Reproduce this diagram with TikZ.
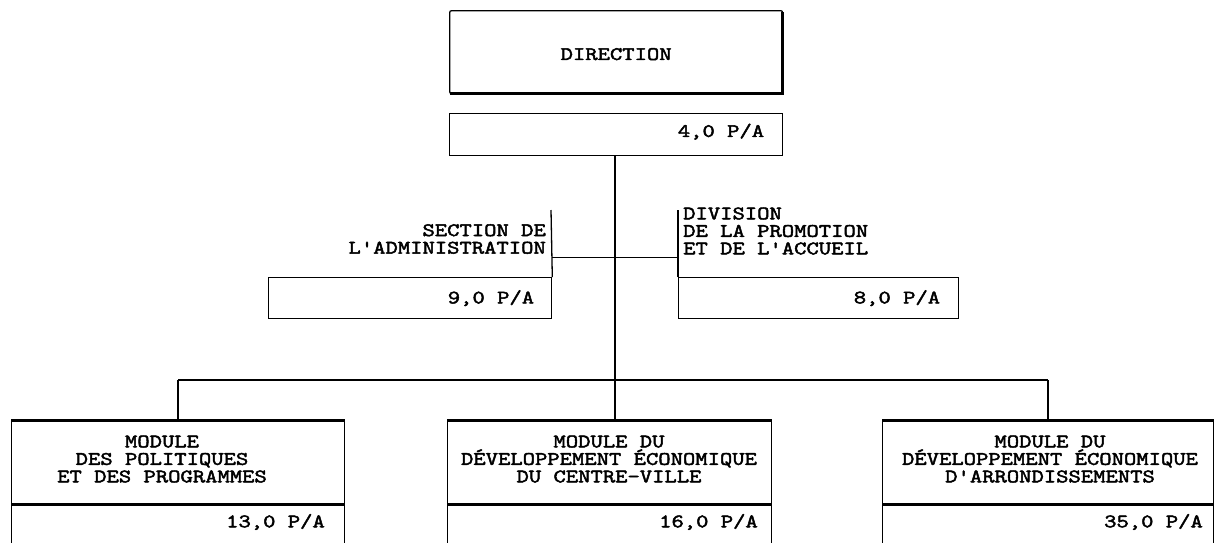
\documentclass[tikz,border=0pt]{standalone}
\usepackage{fontspec}
\newfontfamily\courf[FakeStretch=1.26,FakeBold=2.5]{Latin Modern Mono}
\usetikzlibrary{calc}
\begin{document}
\begin{tikzpicture}[x=1pt,y=-1pt,
  every node/.style={font=\courf\fontsize{19}{17.5}\selectfont, inner sep=0pt},
  bx/.style={draw, line width=1.3pt, anchor=north west},
  lbl/.style={align=center},
  heavy/.style={line width=3pt},
  con/.style={line width=1.8pt},
  link/.style={line width=1pt}]
\path[use as bounding box] (0,0) rectangle (1217,542);
\clip (0,0) rectangle (1217,542);

% top
\node[bx, minimum width=333pt, minimum height=83pt, rounded corners=2pt] (dir) at (449,10) {};
\node[lbl] (dirt) at ($(dir.center)+(0,2)$) {DIRECTION};
\draw[heavy] ($(dir.south west)+(1,-1)$) -- ($(dir.south east)+(-1,-1)$) -- ($(dir.north east)+(-1,2)$);
\node[bx, minimum width=333pt, minimum height=42pt] (p4) at (449,113) {};
\node[anchor=east] (p4t) at ($(p4.east)+(-19,-3)$) {4,0 P/A};

% middle
\coordinate (mid) at (615,257);
\coordinate (hub) at (615,380);
\node[bx, minimum width=283pt, minimum height=41pt] (p9) at (268,277) {};
\node[anchor=east] (p9t) at ($(p9.east)+(-18,0)$) {9,0 P/A};
\coordinate (sectop) at (551,210);
\draw[bx] (p9.north east) -- (sectop);
\node[anchor=east, align=right] (sec) at (546,239) {SECTION DE\\L'ADMINISTRATION};

\node[bx, minimum width=280pt, minimum height=41pt] (p8) at (678,277) {};
\node[anchor=east] (p8t) at ($(p8.east)+(-19,0)$) {8,0 P/A};
\coordinate (divtop) at (678,210);
\draw[bx] (p8.north west) -- (divtop);
\node[anchor=west, align=left] (div) at (683,231) {DIVISION\\DE LA PROMOTION\\ET DE L'ACCUEIL};

\draw[link] (p9.north east |- mid) -- (p8.north west |- mid);
\draw[con] (hub |- p4.south) -- (hub);

% bottom
\node[bx, minimum width=333pt, minimum height=83pt] (m1) at (11,420) {};
\node[bx, minimum width=324pt, minimum height=83pt] (m2) at (447,420) {};
\node[bx, minimum width=331pt, minimum height=83pt] (m3) at (882,420) {};
\node[bx, minimum width=333pt, minimum height=50pt] (v1) at (11,503) {};
\node[bx, minimum width=324pt, minimum height=50pt] (v2) at (447,503) {};
\node[bx, minimum width=331pt, minimum height=50pt] (v3) at (882,503) {};
\foreach \m in {m1,m2,m3}{
  \draw[heavy] (\m.north west) -- (\m.north east);
  \draw[heavy] (\m.south west) -- (\m.south east);
}
\node[lbl] (m1t) at (162,459) {MODULE\\DES POLITIQUES\\ET DES PROGRAMMES};
\node[lbl] (m2t) at (609,459) {MODULE DU\\DÉVELOPPEMENT ÉCONOMIQUE\\DU CENTRE-VILLE};
\node[lbl] (m3t) at (1050,459) {MODULE DU\\DÉVELOPPEMENT ÉCONOMIQUE\\D'ARRONDISSEMENTS};
\node[anchor=east] (v1t) at (325,522) {13,0 P/A};
\node[anchor=east] (v2t) at (758,522) {16,0 P/A};
\node[anchor=east] (v3t) at (1203,522) {35,0 P/A};

\draw[con] (m1.north |- hub) -- (m3.north |- hub);
\draw[con] (m1.north |- hub) -- (m1.north);
\draw[con] (hub) -- (hub |- m2.north);
\draw[con] (m3.north |- hub) -- (m3.north);
\end{tikzpicture}
\end{document}
